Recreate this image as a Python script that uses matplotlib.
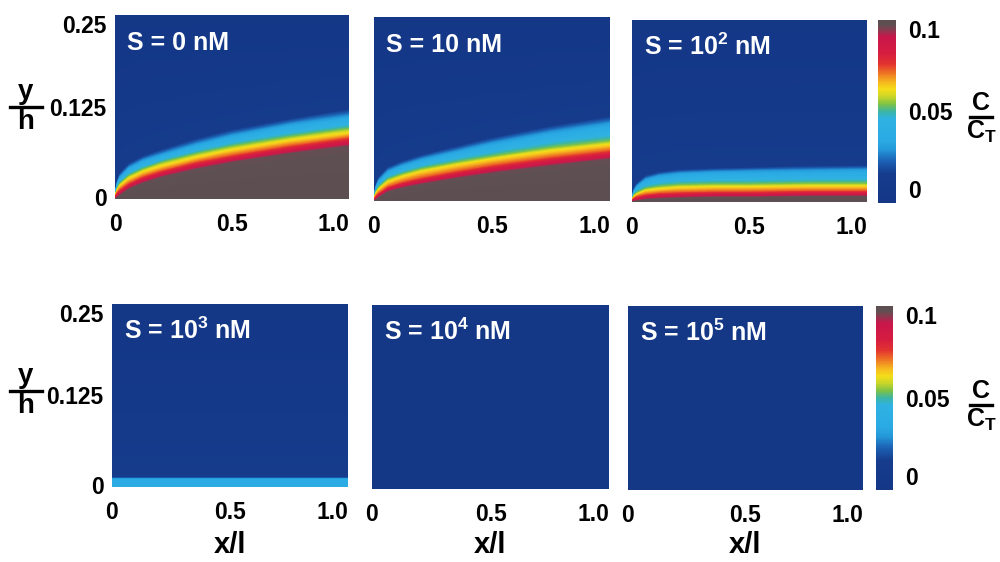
import numpy as np
import matplotlib
matplotlib.use('Agg')
import matplotlib.pyplot as plt
import matplotlib.tri as mtri
from matplotlib.colors import LinearSegmentedColormap, Normalize
from matplotlib.cm import ScalarMappable
from matplotlib.lines import Line2D

plt.rcParams['font.family'] = ['Liberation Sans', 'DejaVu Sans']
plt.rcParams['font.weight'] = 'bold'
plt.rcParams['mathtext.fontset'] = 'custom'
plt.rcParams['mathtext.bf'] = 'Liberation Sans:bold'
plt.rcParams['mathtext.rm'] = 'Liberation Sans:bold'
plt.rcParams['mathtext.default'] = 'bf'

# ---------------- data ----------------
panel_titles = ['S = 0 nM', 'S = 10 nM', 'S = 10$^2$ nM',
                'S = 10$^3$ nM', 'S = 10$^4$ nM', 'S = 10$^5$ nM']

# x/l sample positions at which iso-concentration heights were read
x_pos = [0.0, 0.005, 0.02, 0.06, 0.12, 0.2, 0.35, 0.5, 0.75, 1.0]

# concentration C/C_T at the wall followed by the iso-levels whose heights are listed
levels_S0 = [0.1, 0.097, 0.073, 0.063, 0.054, 0.03, 0.013]
heights_S0 = [
    [0, 0.000, 0.004, 0.013, 0.021, 0.029, 0.040, 0.049, 0.061, 0.071],
    [0, 0.006, 0.012, 0.021, 0.030, 0.038, 0.050, 0.059, 0.072, 0.083],
    [0, 0.009, 0.017, 0.027, 0.036, 0.044, 0.056, 0.066, 0.079, 0.089],
    [0, 0.011, 0.020, 0.031, 0.040, 0.049, 0.061, 0.071, 0.084, 0.095],
    [0, 0.017, 0.029, 0.042, 0.052, 0.060, 0.074, 0.086, 0.101, 0.112],
    [0, 0.021, 0.035, 0.049, 0.059, 0.068, 0.083, 0.095, 0.110, 0.123],
]

levels_S10 = [0.1, 0.097, 0.073, 0.063, 0.054, 0.03, 0.013]
heights_S10 = [
    [0, 0.000, 0.004, 0.012, 0.017, 0.022, 0.030, 0.037, 0.047, 0.056],
    [0, 0.005, 0.010, 0.019, 0.025, 0.031, 0.040, 0.048, 0.059, 0.068],
    [0, 0.008, 0.015, 0.025, 0.032, 0.039, 0.048, 0.056, 0.067, 0.076],
    [0, 0.010, 0.018, 0.029, 0.036, 0.043, 0.052, 0.060, 0.072, 0.081],
    [0, 0.016, 0.027, 0.040, 0.048, 0.056, 0.067, 0.078, 0.093, 0.105],
    [0, 0.020, 0.033, 0.047, 0.055, 0.063, 0.075, 0.087, 0.103, 0.116],
]

levels_S100 = [0.1, 0.097, 0.073, 0.063, 0.054, 0.03, 0.013]
heights_S100 = [
    [0, 0.000, 0.001, 0.003, 0.004, 0.005, 0.006, 0.006, 0.007, 0.007],
    [0, 0.004, 0.007, 0.010, 0.012, 0.013, 0.014, 0.014, 0.015, 0.015],
    [0, 0.006, 0.010, 0.015, 0.017, 0.019, 0.020, 0.020, 0.021, 0.021],
    [0, 0.008, 0.012, 0.018, 0.021, 0.023, 0.024, 0.024, 0.025, 0.025],
    [0, 0.013, 0.021, 0.031, 0.036, 0.039, 0.041, 0.042, 0.043, 0.044],
    [0, 0.017, 0.026, 0.037, 0.042, 0.045, 0.047, 0.048, 0.050, 0.051],
]

levels_S1000 = [0.038, 0.036, 0.013]
heights_S1000 = [
    [0.011, 0.011, 0.011, 0.011, 0.011, 0.011, 0.011, 0.011, 0.011, 0.011],
    [0.014, 0.014, 0.014, 0.014, 0.014, 0.014, 0.014, 0.014, 0.014, 0.014],
]

levels_S10000 = [0.0]
heights_S10000 = []

levels_S100000 = [0.0]
heights_S100000 = []

y_top = 0.25
cbar_ticks = [0, 0.05, 0.1]
cbar_ticklabels = ['0', '0.05', '0.1']
x_ticks = [0, 0.5, 1.0]
x_ticklabels = ['0', '0.5', '1.0']
y_ticks = [0, 0.125, 0.25]
y_ticklabels = ['0', '0.125', '0.25']

panel_levels = [levels_S0, levels_S10, levels_S100, levels_S1000, levels_S10000, levels_S100000]
panel_heights = [heights_S0, heights_S10, heights_S100, heights_S1000, heights_S10000, heights_S100000]

# ---------------- colormap ----------------
cmap = LinearSegmentedColormap.from_list('ct', [
    (0.00, '#143786'), (0.16, '#163c8d'), (0.23, '#1c62b4'), (0.29, '#2497d8'),
    (0.34, '#2aaae4'), (0.46, '#2fb2e2'), (0.50, '#3bb5a6'), (0.54, '#7dc246'),
    (0.58, '#c8d62a'), (0.62, '#f5dd19'), (0.66, '#f6b91f'), (0.71, '#ee7424'),
    (0.76, '#e2332f'), (0.82, '#d61c40'), (0.91, '#c8174c'), (0.955, '#7c4350'),
    (0.975, '#5e4f53'), (1.00, '#5d4e52')])
norm = Normalize(0, 0.1)
fill_levels = np.linspace(0, 0.1001, 257)

# ---------------- layout ----------------
W, H = 1000, 562
fig = plt.figure(figsize=(W / 100, H / 100), dpi=100)


def box(l, r, t, b):
    return [l / W, 1 - b / H, (r - l) / W, (b - t) / H]


panel_boxes = [box(115, 349, 15, 199), box(374, 610, 17, 201), box(632, 867, 20, 202),
               box(112, 348, 304, 487), box(372, 609, 305, 489), box(628, 863, 306, 490)]
cbar_boxes = [box(878, 896, 20, 203), box(876, 893, 306, 490)]

FS = 16.5
xs = np.array(x_pos)
nx = len(xs)
for i, b in enumerate(panel_boxes):
    ax = fig.add_axes(b)
    ax.set_facecolor(cmap(0.0))
    lv = panel_levels[i]
    hs = panel_heights[i]
    rows_y = [np.zeros(nx)] + [np.array(h, dtype=float) for h in hs] + [np.full(nx, y_top)]
    vals = np.array(list(lv) + [0.0])
    Y = np.vstack(rows_y)
    ny = Y.shape[0]
    X = np.tile(xs, (ny, 1))
    C = np.repeat(vals[:, None], nx, axis=1)
    # triangles from the curvilinear grid of read iso-level points
    tris = []
    for r in range(ny - 1):
        for c in range(nx - 1):
            p00 = r * nx + c
            p01 = r * nx + c + 1
            p10 = (r + 1) * nx + c
            p11 = (r + 1) * nx + c + 1
            tris.append([p00, p01, p11])
            tris.append([p00, p11, p10])
    tris = np.array(tris)
    xf, yf = X.ravel(), Y.ravel()
    tri = mtri.Triangulation(xf, yf, tris)
    x1, y1 = xf[tris[:, 0]], yf[tris[:, 0]]
    x2, y2 = xf[tris[:, 1]], yf[tris[:, 1]]
    x3, y3 = xf[tris[:, 2]], yf[tris[:, 2]]
    area = 0.5 * np.abs((x2 - x1) * (y3 - y1) - (x3 - x1) * (y2 - y1))
    tri.set_mask(area < 1e-12)
    ax.tricontourf(tri, C.ravel(), levels=fill_levels, cmap=cmap, norm=norm,
                   antialiased=False)
    ax.set_xlim(0, 1)
    ax.set_ylim(0, y_top)
    for s in ax.spines.values():
        s.set_visible(False)
    ax.set_xticks(x_ticks)
    ax.set_xticklabels(x_ticklabels, fontsize=FS, fontweight='bold')
    lbls = ax.get_xticklabels()
    lbls[-1].set_horizontalalignment('right')
    ax.tick_params(axis='x', length=0, pad=10)
    if i % 3 == 0:
        ax.set_yticks(y_ticks)
        ax.set_yticklabels(y_ticklabels, fontsize=FS, fontweight='bold')
        yl = ax.get_yticklabels()
        yl[-1].set_verticalalignment('top')
        yl[0].set_verticalalignment('center')
        ax.tick_params(axis='y', length=0, pad=6)
    else:
        ax.set_yticks([])
    ax.text(0.05, 0.81, panel_titles[i], transform=ax.transAxes, color='white',
            fontsize=18, fontweight='bold', ha='left', va='baseline')

sm = ScalarMappable(norm=norm, cmap=cmap)
for b in cbar_boxes:
    cax = fig.add_axes(b)
    cb = fig.colorbar(sm, cax=cax)
    cb.outline.set_visible(False)
    cb.set_ticks(cbar_ticks)
    cb.set_ticklabels(cbar_ticklabels)
    cax.tick_params(which='major', length=0, pad=9, labelsize=FS)
    cax.set_yticks([0.05], minor=True)
    cax.tick_params(which='minor', length=2, width=1, direction='in',
                    left=True, right=True, color='#333333')
    for t in cax.get_yticklabels():
        t.set_fontweight('bold')
    tl = cax.get_yticklabels()
    tl[0].set_verticalalignment('bottom')
    tl[-1].set_verticalalignment('top')


def frac(xc, yline, num, den, half_w, fs, gap):
    fig.text(xc / W, 1 - (yline - gap) / H, num, ha='center', va='bottom',
             fontsize=fs, fontweight='bold')
    fig.text(xc / W, 1 - (yline + gap) / H, den, ha='center', va='top',
             fontsize=fs, fontweight='bold')
    fig.add_artist(Line2D([(xc - half_w) / W, (xc + half_w) / W],
                          [1 - yline / H, 1 - yline / H], color='black', lw=2.4))


frac(26, 107, 'y', 'h', 16, 20, 2)
frac(26, 391, 'y', 'h', 16, 20, 2)
frac(981, 117, 'C', 'C$_T$', 11, 18, 2)
frac(981, 405, 'C', 'C$_T$', 11, 18, 2)

for b in panel_boxes[3:]:
    xc = b[0] + b[2] / 2
    fig.text(xc, 1 - 545 / H, 'x/l', ha='center', va='center', fontsize=21, fontweight='bold')

fig.savefig('out.png', dpi=100)
